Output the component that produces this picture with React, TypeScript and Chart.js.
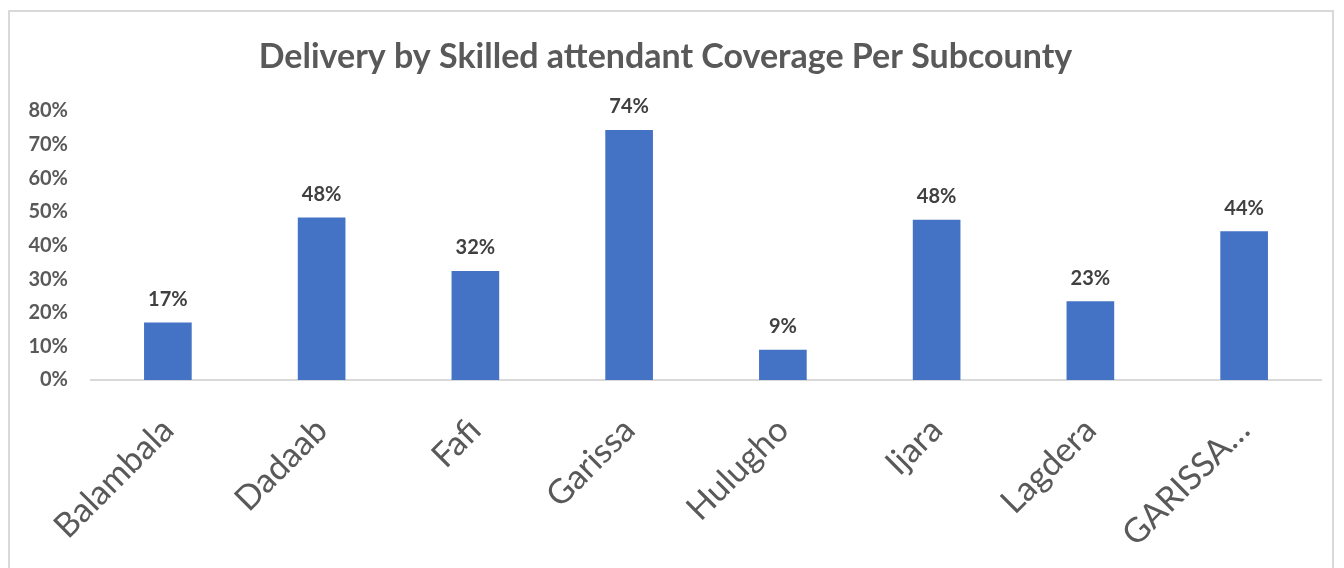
import React, { useEffect, useRef } from "react";
import { Chart, registerables } from "chart.js";

Chart.register(...registerables);

const categories = ["Balambala", "Dadaab", "Fafi", "Garissa", "Hulugho", "Ijara", "Lagdera", "GARISSA…"];
const coverage = [17.1, 48.3, 32.4, 74.3, 9.0, 47.6, 23.4, 44.2];
const yTicks = [0, 10, 20, 30, 40, 50, 60, 70, 80];
const titleText = "Delivery by Skilled attendant Coverage Per Subcounty";

const FONT = "Lato, 'Open Sans', sans-serif";

const dataLabelPlugin = {
  id: "dataLabels",
  afterDatasetsDraw(chart: any) {
    const ctx = chart.ctx;
    const meta = chart.getDatasetMeta(0);
    ctx.save();
    ctx.font = `bold 20px ${FONT}`;
    ctx.fillStyle = "#404040";
    ctx.textAlign = "center";
    ctx.textBaseline = "bottom";
    meta.data.forEach((bar: any, i: number) => {
      const v = chart.data.datasets[0].data[i];
      ctx.fillText(Math.round(v) + "%", bar.x, bar.y - 13);
    });
    ctx.restore();
  },
};

export default function App() {
  const ref = useRef<HTMLCanvasElement>(null);
  useEffect(() => {
    document.body.style.margin = "0";
    const chart = new Chart(ref.current!, {
      type: "bar",
      data: {
        labels: categories,
        datasets: [
          {
            data: coverage,
            backgroundColor: "#4472C4",
            barPercentage: 0.31,
            categoryPercentage: 1,
          },
        ],
      },
      options: {
        animation: false,
        responsive: false,
        maintainAspectRatio: false,
        layout: { padding: { left: 0, right: 11, top: 0, bottom: 0 } },
        plugins: {
          legend: { display: false },
          tooltip: { enabled: false },
          title: {
            display: true,
            text: titleText,
            color: "#595959",
            font: { family: FONT, size: 34, weight: "bold" },
            padding: { top: 25, bottom: 33 },
          },
        },
        scales: {
          x: {
            grid: { display: false, drawTicks: false },
            border: { display: true, color: "#d9d9d9", width: 2 },
            ticks: {
              color: "#595959",
              font: { family: FONT, size: 34 },
              maxRotation: 45,
              minRotation: 45,
              padding: 30,
              autoSkip: false,
            },
            afterFit(scale: any) {
              scale.height = 188;
            },
          },
          y: {
            min: 0,
            max: 80,
            afterBuildTicks(scale: any) {
              scale.ticks = yTicks.map((v) => ({ value: v }));
            },
            grid: { display: false, drawTicks: false },
            border: { display: false },
            ticks: {
              color: "#595959",
              font: { family: FONT, size: 20, weight: "bold" },
              padding: 23,
              callback: (v: any) => v + "%",
            },
            afterFit(scale: any) {
              scale.width = 81;
            },
          },
        },
      },
      plugins: [dataLabelPlugin],
    });
    return () => chart.destroy();
  }, []);
  return (
    <div
      style={{
        position: "absolute",
        left: 8,
        top: 10,
        width: 1326,
        height: 570,
        border: "2px solid #d9d9d9",
        boxSizing: "border-box",
        background: "#fff",
      }}
    >
      <canvas ref={ref} width={1322} height={556} style={{ display: "block" }} />
    </div>
  );
}
